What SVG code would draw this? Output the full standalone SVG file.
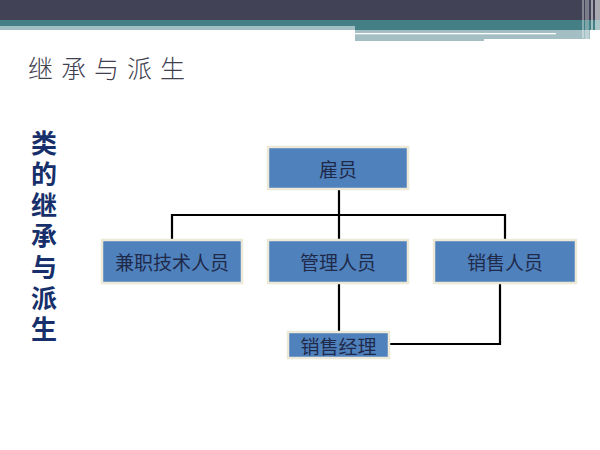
<svg xmlns="http://www.w3.org/2000/svg" width="600" height="450" viewBox="0 0 600 450">
<style>
.box{fill:#4f81bd;stroke:#ece9d8;stroke-width:2.5}
.lbl{font-family:"Noto Sans CJK SC","Noto Sans",sans-serif;font-size:19px;fill:#1f2a4a;text-anchor:middle;dominant-baseline:central}
.conn{fill:none;stroke:#000;stroke-width:2.2}
.side{font-family:"Noto Sans CJK SC",sans-serif;font-size:26px;font-weight:bold;fill:#17306b;writing-mode:vertical-rl;letter-spacing:5px}
</style>
<rect width="600" height="450" fill="#fff"/>
<g id="header">
<rect x="0" y="0" width="600" height="20" fill="#424256"/>
<rect x="0" y="20" width="600" height="6" fill="#437f84"/>
<rect x="355" y="26" width="245" height="4" fill="#437f84"/>
<rect x="0" y="26" width="355" height="4" fill="#a4bfc3"/>
<rect x="355" y="30" width="235" height="9" fill="#a4bfc3"/>
<rect x="355" y="39" width="129" height="2" fill="#a4bfc3"/>
<rect x="355" y="33" width="201" height="1.3" fill="#fff"/>
<rect x="582" y="0" width="2" height="38" fill="#fff" opacity="0.35"/>
<rect x="585" y="0" width="4" height="40" fill="#fff" opacity="0.3"/>
<rect x="591" y="0" width="2" height="42" fill="#fff" opacity="0.5"/>
<rect x="595" y="0" width="5" height="41" fill="#fff" opacity="0.55"/>
</g>
<text x="28" y="78" font-family="Noto Sans CJK SC,sans-serif" font-size="25" font-weight="300" fill="#404050" letter-spacing="8">继承与派生</text>
<text class="side" x="44" y="130">类的继承与派生</text>
<g id="connectors">
<path class="conn" d="M339 189V239M172 239V215H505V239"/>
<path class="conn" d="M339 283V332M389 344H500V283"/>
</g>
<g id="n-guyuan"><rect class="box" x="268" y="147" width="140" height="42"/><text class="lbl" x="338" y="168">雇员</text></g>
<g id="n-jianzhi"><rect class="box" x="102" y="240" width="140" height="43"/><text class="lbl" x="172" y="261">兼职技术人员</text></g>
<g id="n-guanli"><rect class="box" x="268" y="240" width="140" height="43"/><text class="lbl" x="338" y="261">管理人员</text></g>
<g id="n-xiaoshou"><rect class="box" x="434" y="240" width="142" height="43"/><text class="lbl" x="505" y="261">销售人员</text></g>
<g id="n-jingli"><rect class="box" x="288" y="332" width="101" height="26"/><text class="lbl" x="338.5" y="345">销售经理</text></g>
</svg>
